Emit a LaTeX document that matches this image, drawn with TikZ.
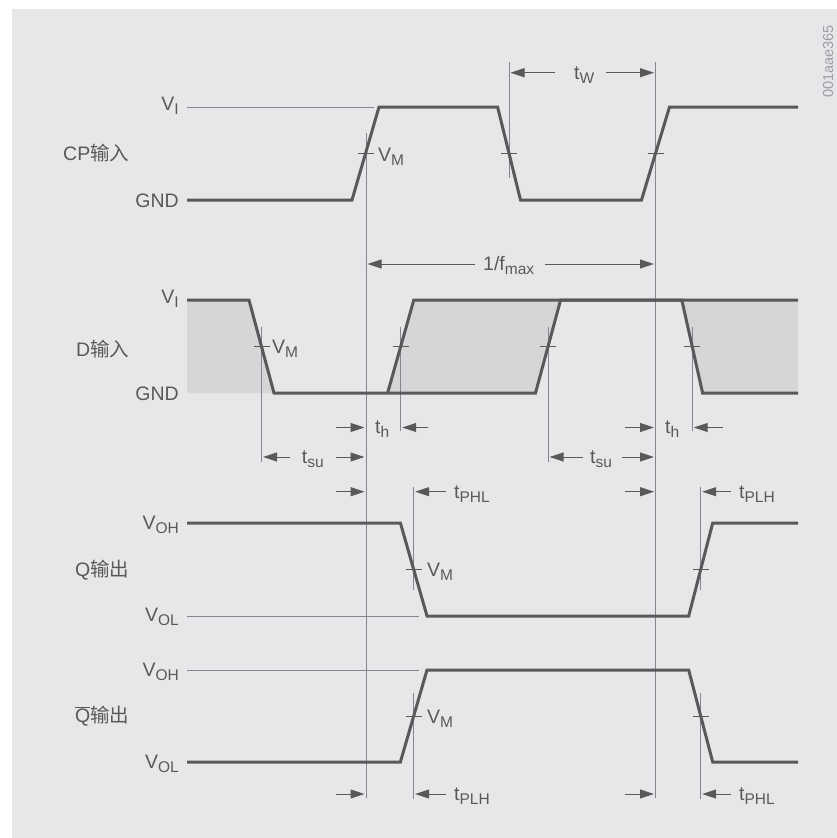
\documentclass[tikz,border=0pt]{standalone}
\usepackage{fontspec}
\setmainfont{Liberation Sans}
\newfontfamily\cjk{Noto Sans CJK SC}
\usetikzlibrary{arrows.meta}
\definecolor{cbg}{HTML}{E6E7E8}
\definecolor{cshade}{HTML}{D5D6D8}
\definecolor{cwave}{HTML}{58595B}
\definecolor{cthin}{HTML}{86878A}
\definecolor{ctxt}{HTML}{58595B}
\definecolor{cid}{HTML}{9D9FA2}
\newcommand\sbs[1]{\raisebox{-4pt}{\fontsize{15.5}{15.5}\selectfont #1}}
\begin{document}
\begin{tikzpicture}[x=1pt,y=-1pt,
  wave/.style={draw=cwave, line width=3pt, line join=miter},
  thinln/.style={draw=cthin, line width=1pt},
  tick/.style={draw=cwave, line width=0.9pt},
  dim/.style={draw=cwave, line width=1pt, -{Triangle[length=14pt,width=9pt]}},
  lbl/.style={text=ctxt, inner sep=0pt, font=\fontsize{19.5}{22}\selectfont},
]
\useasboundingbox (0,0) rectangle (837,838);
\fill[white] (0,0) rectangle (837,838);
\fill[cbg] (12,9) rectangle (837,838);

% ---------- D input shaded regions ----------
\fill[cshade] (187,300) -- (249,300) -- (274,393) -- (187,393) -- cycle;
\fill[cshade] (387.6,393) -- (413.8,300) -- (560.6,300) -- (535.5,393) -- cycle;
\fill[cshade] (681.8,300) -- (798,300) -- (798,393) -- (702.6,393) -- cycle;

% ---------- reference (thin) lines ----------
\draw[thinln] (187,107) -- (374,107);
\draw[thinln] (187,616) -- (419,616);
\draw[thinln] (187,670) -- (419,670);

% vertical measurement lines
\coordinate (c1t) at (366,133);   \coordinate (c1b) at (366,798);
\coordinate (c3t) at (655.5,62);  \coordinate (c3b) at (655.5,798);
\coordinate (c2t) at (509,62);    \coordinate (c2b) at (509,178);
\draw[thinln] (c1t) -- (c1b);
\draw[thinln] (c3t) -- (c3b);
\draw[thinln] (c2t) -- (c2b);
\draw[thinln] (261.5,327) -- (261.5,462);
\draw[thinln] (400.7,327) -- (400.7,431);
\draw[thinln] (548,327) -- (548,462);
\draw[thinln] (692.2,327) -- (692.2,431);
\draw[thinln] (413.7,487) -- (413.7,590);
\draw[thinln] (700.7,487) -- (700.7,590);
\draw[thinln] (413.7,693) -- (413.7,799);
\draw[thinln] (700.7,693) -- (700.7,799);

% ---------- waveforms ----------
% CP
\draw[wave] (187,200) -- (352,200) -- (379,107) -- (497.6,107) -- (520.5,200)
  -- (641.5,200) -- (669.5,107) -- (798,107);
% D
\draw[wave] (187,300) -- (249,300) -- (274,393) -- (535.5,393) -- (560.6,300) -- (798,300);
\draw[wave] (387.6,393) -- (413.8,300) -- (681.8,300) -- (702.6,393) -- (798,393);
% Q
\draw[wave] (187,523) -- (400.4,523) -- (427,616) -- (688.7,616) -- (712.7,523) -- (798,523);
% Q bar
\draw[wave] (187,762) -- (400.4,762) -- (427,670) -- (688.7,670) -- (712.7,762) -- (798,762);

% ---------- VM ticks ----------
\foreach \x/\y in {366/153.5, 509/153.5, 655.5/153.5,
                   261.5/346.5, 400.7/346.5, 548/346.5, 692.2/346.5,
                   413.7/569.5, 700.7/569.5, 413.7/716, 700.7/716}
  \draw[tick] (\x-8,\y) -- (\x+8,\y);

% ---------- dimension arrows ----------
% tW
\draw[dim] (555,72.7) -- (510.5,72.7);
\draw[dim] (606,72.7) -- (654,72.7);
% 1/fmax
\draw[dim] (475,264) -- (367.5,264);
\draw[dim] (545,264) -- (654,264);
% th
\draw[dim] (336,427.5) -- (364.5,427.5);
\draw[dim] (428,427.5) -- (402.2,427.5);
\draw[dim] (625,427.5) -- (654,427.5);
\draw[dim] (723,427.5) -- (693.7,427.5);
% tsu
\draw[dim] (290,457) -- (263,457);
\draw[dim] (336,457) -- (364.5,457);
\draw[dim] (583,457) -- (549.5,457);
\draw[dim] (622,457) -- (654,457);
% Q row
\draw[dim] (336,491.7) -- (364.5,491.7);
\draw[dim] (446,491.7) -- (415.2,491.7);
\draw[dim] (625,491.7) -- (654,491.7);
\draw[dim] (731,491.7) -- (702.2,491.7);
% Q bar row
\draw[dim] (336,794) -- (364.5,794);
\draw[dim] (446,794) -- (415.2,794);
\draw[dim] (625,794) -- (654,794);
\draw[dim] (731,794) -- (702.2,794);

% ---------- labels ----------
\node[lbl, anchor=east] (lcp) at (129.5,153.5) {CP{\cjk 输入}};
\node[lbl, anchor=east] (ld)  at (129.5,349) {D{\cjk 输入}};
\node[lbl, anchor=east] (lq)  at (129.5,570) {Q{\cjk 输出}};
\node[lbl, anchor=east] (lqb) at (129.5,716) {$\overline{\hbox{Q}}${\cjk 输出}};

\node[lbl, anchor=base east] (cpvi)  at (179,110) {V\sbs{I}};
\node[lbl, anchor=base east] (cpgnd) at (179,207.3) {GND};
\node[lbl, anchor=base east] (dvi)   at (179,303.3) {V\sbs{I}};
\node[lbl, anchor=base east] (dgnd)  at (179,400.5) {GND};
\node[lbl, anchor=base east] (qvoh)  at (179,529.3) {V\sbs{OH}};
\node[lbl, anchor=base east] (qvol)  at (179,621.7) {V\sbs{OL}};
\node[lbl, anchor=base east] (qbvoh) at (179,676) {V\sbs{OH}};
\node[lbl, anchor=base east] (qbvol) at (179,768) {V\sbs{OL}};

\node[lbl, anchor=base west] (vm1) at (378,161) {V\sbs{M}};
\node[lbl, anchor=base west] (vm2) at (272,353.5) {V\sbs{M}};
\node[lbl, anchor=base west] (vm3) at (427,576.5) {V\sbs{M}};
\node[lbl, anchor=base west] (vm4) at (427,723) {V\sbs{M}};

\node[lbl, anchor=base west] (tw)  at (574,79.2) {t\sbs{W}};
\node[lbl, anchor=base west] (fm)  at (483,270.5) {1/f\sbs{max}};
\node[lbl, anchor=base west] (th1) at (375,433) {t\sbs{h}};
\node[lbl, anchor=base west] (th2) at (665,433) {t\sbs{h}};
\node[lbl, anchor=base west] (ts1) at (301.7,463.3) {t\sbs{su}};
\node[lbl, anchor=base west] (ts2) at (590,463.3) {t\sbs{su}};
\node[lbl, anchor=base west] (tp1) at (454,498) {t\sbs{PHL}};
\node[lbl, anchor=base west] (tp2) at (739,498) {t\sbs{PLH}};
\node[lbl, anchor=base west] (tp3) at (454,800.5) {t\sbs{PLH}};
\node[lbl, anchor=base west] (tp4) at (739,800.5) {t\sbs{PHL}};

\node[text=cid, inner sep=0pt, rotate=90, font=\fontsize{14.5}{15}\selectfont] (id) at (828,61.5) {001aae365};
\end{tikzpicture}
\end{document}
